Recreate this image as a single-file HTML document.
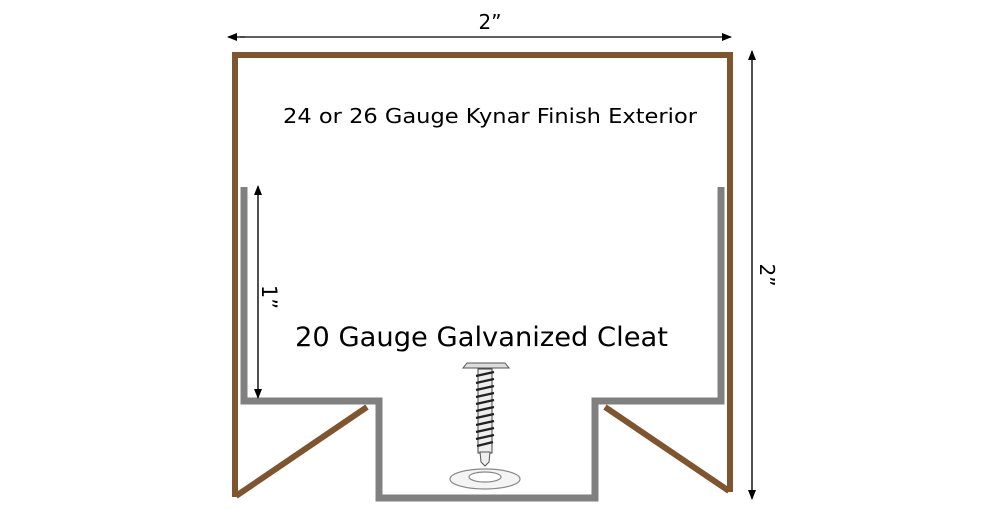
<!DOCTYPE html>
<html><head><meta charset="utf-8"><style>
html,body{margin:0;padding:0;background:#fff;width:1000px;height:514px;overflow:hidden}
</style></head><body>
<svg width="1000" height="514" viewBox="0 0 1000 514" xmlns="http://www.w3.org/2000/svg" font-family="DejaVu Sans, Liberation Sans, sans-serif">
<defs>
<marker id="a" markerWidth="10" markerHeight="8" refX="9" refY="4" orient="auto" markerUnits="userSpaceOnUse"><path d="M0,0 L10,4 L0,8 Z" fill="#000"/></marker>
</defs>
<path d="M235,497 L235,55 L730,55 L730,492" fill="none" stroke="#7f5530" stroke-width="6"/>
<line x1="236" y1="496" x2="367" y2="407" stroke="#7f5530" stroke-width="6"/>
<line x1="605" y1="407" x2="729" y2="491" stroke="#7f5530" stroke-width="6"/>
<path d="M244,187 L244,401 L379,401 L379,498 L595,498 L595,401 L721,401 L721,187" fill="none" stroke="#808080" stroke-width="7"/>
<line x1="245" y1="37" x2="228" y2="37" stroke="#000" stroke-width="1.2" marker-end="url(#a)"/>
<line x1="240" y1="37" x2="731" y2="37" stroke="#000" stroke-width="1.2" marker-end="url(#a)"/>
<line x1="752" y1="490" x2="752" y2="51" stroke="#000" stroke-width="1.2" marker-end="url(#a)"/>
<line x1="752" y1="60" x2="752" y2="499" stroke="#000" stroke-width="1.2" marker-end="url(#a)"/>
<line x1="258" y1="392" x2="258" y2="186" stroke="#000" stroke-width="1.2" marker-end="url(#a)"/>
<line x1="258" y1="192" x2="258" y2="398" stroke="#000" stroke-width="1.2" marker-end="url(#a)"/>
<text x="490" y="29" font-size="20" text-anchor="middle">2”</text>
<text transform="translate(760,275) rotate(90)" font-size="20" text-anchor="middle">2”</text>
<text transform="translate(262,297) rotate(90)" font-size="21" text-anchor="middle">1”</text>
<text x="283" y="123" font-size="20" textLength="414" lengthAdjust="spacingAndGlyphs">24 or 26 Gauge Kynar Finish Exterior</text>
<text x="295" y="346" font-size="27" textLength="373" lengthAdjust="spacingAndGlyphs">20 Gauge Galvanized Cleat</text>
<path d="M463,368 L467,363 L505,363 L509,368 Z" fill="#ddd" stroke="#555" stroke-width="1"/>
<rect x="478" y="369" width="14" height="84" fill="#eee" stroke="#444" stroke-width="1"/>
<g stroke="#222" stroke-width="2.2">
<line x1="476" y1="376" x2="494" y2="372"/><line x1="476" y1="383" x2="494" y2="379"/>
<line x1="476" y1="390" x2="494" y2="386"/><line x1="476" y1="397" x2="494" y2="393"/>
<line x1="476" y1="404" x2="494" y2="400"/><line x1="476" y1="411" x2="494" y2="407"/>
<line x1="476" y1="418" x2="494" y2="414"/><line x1="476" y1="425" x2="494" y2="421"/>
<line x1="476" y1="432" x2="494" y2="428"/><line x1="476" y1="439" x2="494" y2="435"/>
<line x1="477" y1="446" x2="493" y2="442"/>
</g>
<path d="M480,452 L490,452 L489,462 L485,466 L481,462 Z" fill="#eee" stroke="#555" stroke-width="1"/>
<ellipse cx="485" cy="479" rx="35" ry="10" fill="#f4f4f4" stroke="#888" stroke-width="1.2"/>
<ellipse cx="485" cy="477" rx="16" ry="5" fill="#fff" stroke="#888" stroke-width="1.2"/>
</svg>
</body></html>
